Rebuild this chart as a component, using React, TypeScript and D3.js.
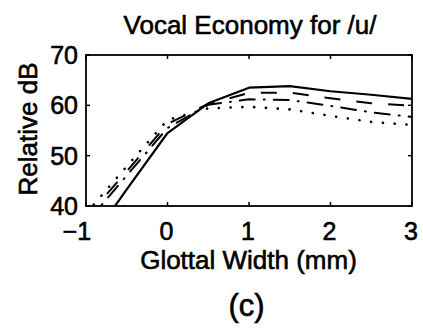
import React from "react";
import * as d3 from "d3";

const xValues = [-1, -0.5, 0, 0.5, 1, 1.5, 2, 2.5, 3];
const solidSeries = [31.9, 43.3, 54.5, 60.4, 63.5, 63.8, 62.8, 62.1, 61.3];
const dashedSeries = [37.6, 46.9, 56.3, 60.3, 62.45, 62.55, 61.4, 60.4, 59.9];
const dashDotSeries = [36.6, 46.05, 55.5, 60.1, 61.2, 61.05, 59.9, 58.6, 57.7];
const dottedSeries = [38.5, 47.9, 57.1, 59.4, 59.7, 59.2, 57.9, 56.7, 56.1];

const xTicks = [-1, 0, 1, 2, 3];
const yTicks = [40, 50, 60, 70];

const titleText = "Vocal Economy for /u/";
const xLabelText = "Glottal Width (mm)";
const yLabelText = "Relative dB";
const panelText = "(c)";

const W = 423;
const H = 332;
const M = { left: 86, right: 412, top: 55, bottom: 206 };
const FONT = "'Liberation Sans', Arial, Helvetica, sans-serif";

export default function App() {
  const x = d3.scaleLinear().domain([-1, 3]).range([M.left, M.right]);
  const y = d3.scaleLinear().domain([40, 70]).range([M.bottom, M.top]);

  const line = d3
    .line<number>()
    .x((_, i) => x(xValues[i]))
    .y((d) => y(d));

  const series = [
    { data: solidSeries, dash: undefined as string | undefined, width: 2.2, cap: "butt" },
    { data: dashedSeries, dash: "16 16", width: 2, cap: "butt" },
    { data: dashDotSeries, dash: "15 9 1 9", width: 2, cap: "round" },
    { data: dottedSeries, dash: "0.1 11.7", width: 2.6, cap: "round" },
  ];

  const tickLen = 4;
  const textStyle = { fontFamily: FONT, fill: "#000", stroke: "#000", strokeWidth: 0.6 } as const;

  return (
    <svg
      width={W}
      height={H}
      viewBox={`0 0 ${W} ${H}`}
      style={{ position: "absolute", left: 0, top: 0, background: "#fff" }}
    >
      <defs>
        <clipPath id="plotClip">
          <rect x={M.left} y={M.top} width={M.right - M.left} height={M.bottom - M.top} />
        </clipPath>
      </defs>
      <rect x={0} y={0} width={W} height={H} fill="#fff" />

      <g clipPath="url(#plotClip)">
        {series.map((s, i) => (
          <path
            key={i}
            d={line(s.data) || ""}
            fill="none"
            stroke="#000"
            strokeWidth={s.width}
            strokeDasharray={s.dash}
            strokeLinecap={s.cap as any}
            strokeLinejoin="round"
          />
        ))}
      </g>

      <rect
        x={M.left}
        y={M.top}
        width={M.right - M.left}
        height={M.bottom - M.top}
        fill="none"
        stroke="#000"
        strokeWidth={1.8}
      />

      {xTicks.map((t) => (
        <g key={"xt" + t}>
          <line x1={x(t)} x2={x(t)} y1={M.bottom} y2={M.bottom - tickLen} stroke="#000" strokeWidth={1.5} />
          <line x1={x(t)} x2={x(t)} y1={M.top} y2={M.top + tickLen} stroke="#000" strokeWidth={1.5} />
          <text
            x={x(t) + (t < 0 ? -9 : -1)}
            y={240}
            textAnchor="middle"
            fontSize={25}
            style={textStyle}
          >
            {t < 0 ? "\u2212" + Math.abs(t) : String(t)}
          </text>
        </g>
      ))}

      {yTicks.map((t) => (
        <g key={"yt" + t}>
          <line x1={M.left} x2={M.left + tickLen} y1={y(t)} y2={y(t)} stroke="#000" strokeWidth={1.5} />
          <line x1={M.right} x2={M.right - tickLen} y1={y(t)} y2={y(t)} stroke="#000" strokeWidth={1.5} />
          <text x={78} y={y(t) + 9} textAnchor="end" fontSize={25} style={textStyle}>
            {String(t)}
          </text>
        </g>
      ))}

      <text x={250} y={34} textAnchor="middle" fontSize={26} style={textStyle}>
        {titleText}
      </text>
      <text x={248.5} y={269} textAnchor="middle" fontSize={26} style={textStyle}>
        {xLabelText}
      </text>
      <text
        transform={`translate(37,129) rotate(-90)`}
        textAnchor="middle"
        fontSize={26}
        style={textStyle}
      >
        {yLabelText}
      </text>
      <text x={246.5} y={316} textAnchor="middle" fontSize={31} style={textStyle}>
        {panelText}
      </text>
    </svg>
  );
}
